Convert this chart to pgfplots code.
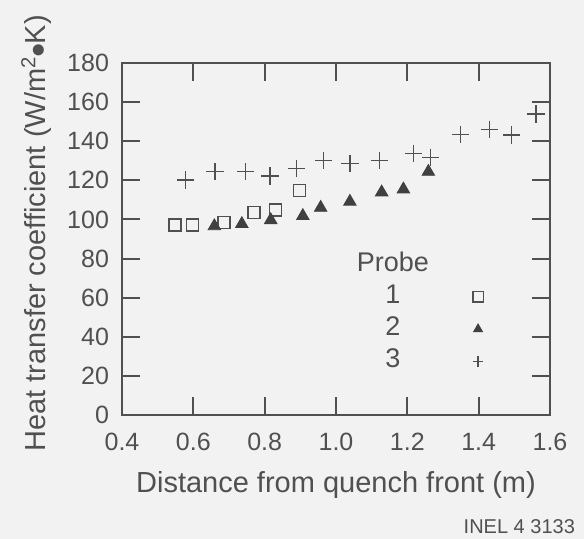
\documentclass[border=0pt]{standalone}
\usepackage{fontspec}
\setmainfont{Liberation Sans}
\usepackage{pgfplots}
\pgfplotsset{compat=1.18}
\definecolor{ink}{RGB}{80,80,80}
\definecolor{bg}{RGB}{242,242,242}
\begin{document}
\begin{tikzpicture}
\fill[bg] (-61pt,-62pt) rectangle (231pt,207.5pt);
\begin{axis}[
  scale only axis,
  width=214pt, height=176pt,
  xmin=0.4, xmax=1.6, ymin=0, ymax=180,
  xtick={0.4,0.6,...,1.6},
  ytick={0,20,...,180},
  tick align=inside,
  major tick length=9pt,
  axis line style={ink, line width=1pt},
  every tick/.style={ink, line width=1pt},
  tick label style={font=\fontsize{12.5}{14}\selectfont, text=ink},
  /pgf/number format/assume math mode=true,
  xticklabel style={/pgf/number format/fixed, /pgf/number format/fixed zerofill, /pgf/number format/precision=1, yshift=-5.5pt},
  yticklabel style={xshift=-3pt},
  xlabel={Distance from quench front (m)},
  ylabel={Heat transfer coefficient (W/m\textsuperscript{2}\kern-0.5pt$\bullet$\kern-0.5pt K)},
  label style={font=\fontsize{14.5}{16}\selectfont, text=ink},
  xlabel style={at={(axis description cs:0.5,-0.2)}, anchor=center},
  ylabel style={at={(axis description cs:-0.2,0.516)}, anchor=center},
  legend plot pos=right,
  legend cell align=center,
  legend image post style={mark size=2.6pt},
  legend style={draw=none, fill=none, font=\fontsize{13.5}{15}\selectfont, text=ink,
    at={(rel axis cs:0.52,0.485)}, anchor=north west,
    nodes={text height=9.6pt, text depth=3pt, inner ysep=1.75pt, inner xsep=3pt},
    column sep=13pt, row sep=0pt},
]
\addlegendimage{empty legend}
\addlegendentry{Probe}
\addplot[only marks, mark=square, mark size=3pt, ink, mark options={line width=0.7pt}] coordinates {
(0.549,97.2) (0.598,97.2) (0.686,98.3) (0.770,103.6) (0.831,104.8) (0.897,114.7)
};
\addlegendentry{1}
\addplot[only marks, mark=triangle*, mark size=3.6pt, ink!80!black] coordinates {
(0.659,96.6) (0.736,97.7) (0.817,99.7) (0.907,101.8) (0.957,106.0)
(1.039,109.1) (1.128,113.9) (1.189,115.4) (1.259,124.4)
};
\addlegendentry{2}
\addplot[only marks, mark=+, mark size=4.3pt, ink, mark options={line width=0.6pt}] coordinates {
(0.577,120.2) (0.661,124.4) (0.747,124.4) (0.815,122.2) (0.890,126.1)
(0.966,130.0) (1.039,128.7) (1.121,130.0) (1.217,133.8) (1.264,131.8)
(1.348,143.5) (1.430,146.1) (1.493,143.2) (1.561,153.9)
};
\addlegendentry{3}
\end{axis}
\node[anchor=east, font=\fontsize{10}{12}\selectfont, text=ink] at (230pt,-56pt) {INEL 4 3133};
\pgfresetboundingbox
\useasboundingbox (-61pt,-62pt) rectangle (231pt,207.5pt);
\end{tikzpicture}
\end{document}
